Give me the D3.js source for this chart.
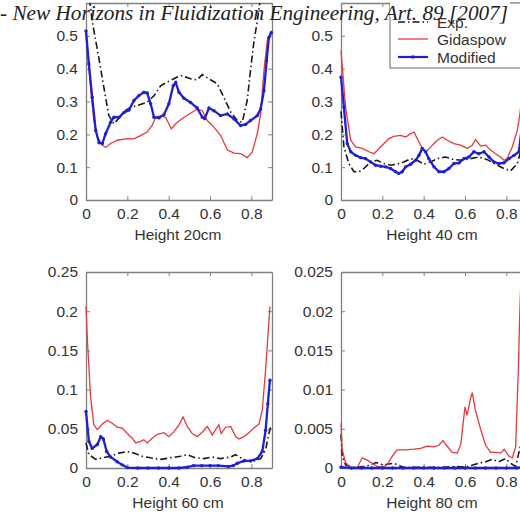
<!DOCTYPE html>
<html><head><meta charset="utf-8">
<script src="https://cdn.jsdelivr.net/npm/d3@7"></script>
<style>body{margin:0;background:#fff}svg{display:block}</style>
</head><body>
<svg id="c" width="520" height="513"></svg>
<script>
// ---------- data ----------
const titleText = "- New Horizons in Fluidization Engineering, Art. 89 [2007]";
const seriesNames = ["Exp.", "Gidaspow", "Modified"];
const xTicks = [0, 0.2, 0.4, 0.6, 0.8];
const xLabels = ["Height 20cm", "Height 40 cm", "Height 60 cm", "Height 80 cm"];
const yTicksTop = [0, 0.1, 0.2, 0.3, 0.4, 0.5];
const yTicks60 = [0, 0.05, 0.1, 0.15, 0.2, 0.25];
const yTicks80 = [0, 0.005, 0.01, 0.015, 0.02, 0.025];

// Height 20 cm
const h20_exp = [[0,0.7],[0.015,0.62],[0.03,0.545],[0.06,0.44],[0.09,0.33],[0.11,0.258],[0.135,0.232],[0.16,0.25],[0.184,0.27],[0.21,0.28],[0.248,0.288],[0.296,0.298],[0.33,0.318],[0.361,0.348],[0.41,0.365],[0.458,0.379],[0.48,0.375],[0.506,0.369],[0.538,0.366],[0.563,0.382],[0.595,0.369],[0.635,0.354],[0.667,0.313],[0.7,0.268],[0.732,0.242],[0.756,0.237],[0.78,0.303],[0.796,0.394],[0.813,0.485],[0.829,0.545],[0.845,0.62],[0.9,0.75]];
const h20_gid = [[0,0.505],[0.022,0.343],[0.038,0.242],[0.055,0.192],[0.079,0.167],[0.095,0.16],[0.119,0.172],[0.151,0.182],[0.2,0.187],[0.232,0.186],[0.256,0.194],[0.296,0.207],[0.32,0.227],[0.337,0.252],[0.361,0.257],[0.385,0.252],[0.413,0.217],[0.442,0.237],[0.474,0.252],[0.506,0.264],[0.538,0.277],[0.563,0.272],[0.587,0.242],[0.619,0.222],[0.651,0.197],[0.684,0.152],[0.716,0.143],[0.748,0.141],[0.78,0.129],[0.804,0.146],[0.829,0.202],[0.845,0.263],[0.861,0.394],[0.877,0.485],[0.893,0.51]];
const h20_mod = [[0,0.515],[0.014,0.414],[0.03,0.313],[0.047,0.212],[0.063,0.174],[0.079,0.172],[0.095,0.202],[0.119,0.237],[0.135,0.252],[0.16,0.252],[0.184,0.267],[0.208,0.274],[0.232,0.303],[0.256,0.318],[0.28,0.328],[0.296,0.326],[0.313,0.293],[0.329,0.252],[0.353,0.25],[0.377,0.26],[0.401,0.293],[0.422,0.348],[0.434,0.358],[0.45,0.328],[0.474,0.31],[0.506,0.297],[0.538,0.28],[0.563,0.252],[0.574,0.248],[0.595,0.28],[0.619,0.272],[0.651,0.257],[0.684,0.262],[0.716,0.247],[0.748,0.227],[0.772,0.23],[0.796,0.242],[0.829,0.257],[0.845,0.277],[0.861,0.333],[0.874,0.424],[0.885,0.495],[0.897,0.51]];

// Height 40 cm
const h40_exp = [[0,0.27],[0.014,0.162],[0.038,0.111],[0.063,0.086],[0.087,0.086],[0.111,0.096],[0.143,0.116],[0.175,0.121],[0.208,0.111],[0.24,0.106],[0.272,0.109],[0.304,0.116],[0.337,0.126],[0.369,0.121],[0.401,0.109],[0.434,0.116],[0.466,0.126],[0.506,0.131],[0.546,0.123],[0.587,0.121],[0.627,0.126],[0.667,0.131],[0.708,0.123],[0.748,0.109],[0.788,0.096],[0.821,0.089],[0.853,0.111],[0.875,0.16],[0.9,0.27]];
const h40_gid = [[0,0.455],[0.022,0.283],[0.047,0.182],[0.071,0.162],[0.103,0.157],[0.135,0.147],[0.16,0.141],[0.184,0.157],[0.208,0.172],[0.232,0.187],[0.256,0.194],[0.288,0.197],[0.313,0.192],[0.337,0.202],[0.353,0.207],[0.369,0.187],[0.393,0.157],[0.413,0.147],[0.442,0.167],[0.466,0.182],[0.49,0.192],[0.514,0.182],[0.546,0.172],[0.579,0.167],[0.611,0.157],[0.635,0.167],[0.651,0.184],[0.676,0.164],[0.7,0.167],[0.724,0.152],[0.748,0.141],[0.772,0.131],[0.788,0.121],[0.804,0.126],[0.829,0.162],[0.853,0.212],[0.866,0.263],[0.88,0.35],[0.9,0.45]];
const h40_mod = [[0,0.374],[0.014,0.283],[0.03,0.172],[0.047,0.147],[0.071,0.136],[0.095,0.129],[0.119,0.126],[0.143,0.116],[0.167,0.106],[0.192,0.103],[0.216,0.101],[0.24,0.096],[0.264,0.086],[0.28,0.081],[0.296,0.086],[0.313,0.101],[0.337,0.109],[0.361,0.121],[0.377,0.136],[0.393,0.157],[0.409,0.147],[0.425,0.126],[0.45,0.101],[0.474,0.086],[0.498,0.086],[0.522,0.096],[0.546,0.111],[0.571,0.113],[0.595,0.126],[0.619,0.131],[0.643,0.147],[0.667,0.141],[0.692,0.147],[0.716,0.131],[0.74,0.116],[0.764,0.111],[0.788,0.113],[0.813,0.126],[0.837,0.136],[0.861,0.147],[0.88,0.25],[0.9,0.37]];

// Height 60 cm
const h60_exp = [[0,0.032],[0.014,0.017],[0.047,0.011],[0.079,0.013],[0.119,0.015],[0.16,0.019],[0.2,0.021],[0.232,0.019],[0.272,0.015],[0.313,0.013],[0.361,0.011],[0.409,0.013],[0.458,0.015],[0.49,0.017],[0.53,0.013],[0.571,0.012],[0.611,0.014],[0.651,0.012],[0.7,0.014],[0.724,0.017],[0.748,0.013],[0.78,0.009],[0.813,0.009],[0.845,0.012],[0.869,0.023],[0.885,0.044],[0.893,0.052]];
const h60_gid = [[0,0.206],[0.006,0.167],[0.022,0.091],[0.038,0.055],[0.055,0.049],[0.079,0.056],[0.103,0.061],[0.127,0.057],[0.151,0.052],[0.175,0.051],[0.2,0.044],[0.224,0.038],[0.24,0.032],[0.264,0.034],[0.28,0.036],[0.296,0.032],[0.32,0.038],[0.345,0.043],[0.377,0.045],[0.401,0.04],[0.425,0.046],[0.45,0.055],[0.47,0.065],[0.49,0.053],[0.514,0.044],[0.538,0.04],[0.563,0.046],[0.587,0.053],[0.611,0.042],[0.627,0.049],[0.643,0.055],[0.654,0.044],[0.676,0.052],[0.7,0.053],[0.724,0.04],[0.74,0.037],[0.764,0.04],[0.788,0.045],[0.813,0.051],[0.837,0.056],[0.853,0.074],[0.869,0.125],[0.88,0.168],[0.89,0.206]];
const h60_mod = [[0,0.072],[0.014,0.034],[0.03,0.025],[0.055,0.03],[0.071,0.04],[0.084,0.037],[0.1,0.021],[0.119,0.014],[0.151,0.008],[0.175,0.004],[0.2,0.0005],[0.25,0],[0.3,0],[0.35,0],[0.4,0],[0.45,0],[0.49,0.001],[0.52,0.003],[0.56,0.003],[0.6,0.003],[0.64,0.003],[0.69,0.002],[0.712,0.003],[0.732,0.006],[0.764,0.009],[0.796,0.009],[0.829,0.012],[0.853,0.021],[0.869,0.048],[0.88,0.082],[0.89,0.112]];

// Height 80 cm
const h80_exp = [[0,0.0043],[0.006,0.0015],[0.022,0.0004],[0.06,0.0001],[0.12,0.0002],[0.17,0.0007],[0.2,0.0004],[0.256,0.0006],[0.3,0.0001],[0.4,0.0001],[0.5,0.0001],[0.55,0.0002],[0.6,0.0001],[0.667,0.0006],[0.7,0.0008],[0.732,0.0011],[0.764,0.0008],[0.796,0.0012],[0.821,0.0006],[0.845,0.0002],[0.87,0.003],[0.9,0.008]];
const h80_gid = [[0,0.0057],[0.006,0.0023],[0.022,0.0007],[0.047,0],[0.079,0.0001],[0.103,0.0013],[0.127,0.001],[0.151,0.0006],[0.175,0.0002],[0.2,0.0001],[0.224,0.0004],[0.248,0.0015],[0.272,0.0023],[0.313,0.0023],[0.353,0.0024],[0.385,0.0025],[0.417,0.0028],[0.45,0.0027],[0.474,0.0029],[0.494,0.0035],[0.51,0.0029],[0.538,0.002],[0.563,0.0019],[0.58,0.0031],[0.6,0.0078],[0.61,0.0067],[0.627,0.0089],[0.635,0.0096],[0.65,0.0074],[0.676,0.0049],[0.7,0.0029],[0.724,0.002],[0.748,0.002],[0.772,0.0019],[0.79,0.0024],[0.813,0.0015],[0.829,0.0013],[0.845,0.0027],[0.858,0.0125],[0.866,0.0206],[0.875,0.027],[0.9,0.03]];
const h80_mod = [[0,0.0001],[0.05,0],[0.1,0],[0.15,0],[0.2,0],[0.25,0],[0.3,0],[0.35,0],[0.4,0],[0.45,0],[0.5,0],[0.55,0],[0.6,0],[0.65,0],[0.7,0],[0.75,0],[0.8,0],[0.85,0],[0.9,0.0002]];

// ---------- drawing ----------
const svg = d3.select("#c");
svg.append("rect").attr("width",520).attr("height",513).attr("fill","#fff");

const AX = "#808080", TXT = "#333";
const COL = {exp:"#1a1a1a", gid:"#e8383d", mod:"#1f1fd6"};

const panels = [
  {x0:86, y0:3, w:186, h:197, ymax:0.6, yt:yTicksTop, lab:xLabels[0], exp:h20_exp, gid:h20_gid, mod:h20_mod},
  {x0:341, y0:3, w:186, h:197, ymax:0.6, yt:yTicksTop, lab:xLabels[1], exp:h40_exp, gid:h40_gid, mod:h40_mod},
  {x0:86, y0:272, w:186, h:196, ymax:0.25, yt:yTicks60, lab:xLabels[2], exp:h60_exp, gid:h60_gid, mod:h60_mod},
  {x0:341, y0:272, w:186, h:196, ymax:0.025, yt:yTicks80, lab:xLabels[3], exp:h80_exp, gid:h80_gid, mod:h80_mod}
];

panels.forEach((p,i)=>{
  const x = d3.scaleLinear().domain([0,0.9]).range([p.x0, p.x0+p.w]);
  const y = d3.scaleLinear().domain([0,p.ymax]).range([p.y0+p.h, p.y0]);
  const g = svg.append("g");
  const cid = "clip"+i;
  svg.append("clipPath").attr("id",cid).append("rect")
    .attr("x",p.x0-3).attr("y",p.y0).attr("width",p.w+6).attr("height",p.h+3);

  const tl = 4;
  const fmt = d=>d3.format("")(d);
  const bottom = d3.axisBottom(x).tickValues(xTicks).tickSizeInner(-tl).tickSizeOuter(0).tickPadding(8).tickFormat(fmt);
  const top = d3.axisTop(x).tickValues(xTicks).tickSizeInner(-tl).tickSizeOuter(0).tickFormat("");
  const left = d3.axisLeft(y).tickValues(p.yt).tickSizeInner(-tl).tickSizeOuter(0).tickPadding(8).tickFormat(fmt);
  const right = d3.axisRight(y).tickValues(p.yt).tickSizeInner(-tl).tickSizeOuter(0).tickFormat("");

  const gb = g.append("g").attr("transform",`translate(0,${p.y0+p.h})`).call(bottom);
  const gt = g.append("g").attr("transform",`translate(0,${p.y0})`).call(top);
  const gl = g.append("g").attr("transform",`translate(${p.x0},0)`).call(left);
  const gr = g.append("g").attr("transform",`translate(${p.x0+p.w},0)`).call(right);
  [gb,gt,gl,gr].forEach(a=>{
    a.selectAll("path.domain").attr("stroke",AX).attr("stroke-width",1.3);
    a.selectAll(".tick line").attr("stroke",AX);
    a.selectAll("text").attr("fill",TXT).attr("font-family","Liberation Sans, Arial, sans-serif").attr("font-size",15.5);
  });

  g.append("text").attr("x",p.x0+p.w/2 - (i%2?2:1)).attr("y",p.y0+p.h+40)
    .attr("text-anchor","middle").attr("fill",TXT)
    .attr("font-family","Liberation Sans, Arial, sans-serif").attr("font-size",15.5).text(p.lab);

  const line = d3.line().x(d=>x(d[0])).y(d=>y(d[1]));
  const pg = g.append("g").attr("clip-path",`url(#${cid})`);
  pg.append("path").datum(p.exp).attr("d",line).attr("fill","none")
    .attr("stroke",COL.exp).attr("stroke-width",1.6).attr("stroke-dasharray","7,3,1.5,3");
  pg.append("path").datum(p.gid).attr("d",line).attr("fill","none")
    .attr("stroke",COL.gid).attr("stroke-width",1.3);
  pg.append("path").datum(p.mod).attr("d",line).attr("fill","none")
    .attr("stroke",COL.mod).attr("stroke-width",2.3);
  pg.selectAll("circle").data(p.mod).join("circle")
    .attr("cx",d=>x(d[0])).attr("cy",d=>y(d[1])).attr("r",1.7).attr("fill",COL.mod);
});

// legend in the 40 cm panel
const lg = svg.append("g");
lg.append("rect").attr("x",390).attr("y",3).attr("width",150).attr("height",65)
  .attr("fill","#fff").attr("stroke",AX).attr("stroke-width",1.2);
const legY = [22, 39, 57];
const legCol = [COL.exp, COL.gid, COL.mod];
seriesNames.forEach((n,i)=>{
  const l = lg.append("line").attr("x1",398).attr("x2",428).attr("y1",legY[i]).attr("y2",legY[i])
    .attr("stroke",legCol[i]).attr("stroke-width",i===2?2.2:(i===0?1.6:1.3));
  if(i===0) l.attr("stroke-dasharray","7,3,1.5,3");
  if(i===2) lg.append("circle").attr("cx",413).attr("cy",legY[i]).attr("r",1.8).attr("fill",COL.mod);
  lg.append("text").attr("x",437).attr("y",legY[i]+5.5).attr("fill",TXT)
    .attr("font-family","Liberation Sans, Arial, sans-serif").attr("font-size",15.5).text(n);
});

// header text overlay
svg.append("rect").attr("x",390).attr("y",0).attr("width",120).attr("height",17).attr("fill","#fff");
svg.append("text").attr("x",0).attr("y",20)
  .attr("font-family","Liberation Serif, serif").attr("font-style","italic").attr("font-size",20)
  .attr("fill","#222").attr("textLength",508).attr("lengthAdjust","spacingAndGlyphs").text(titleText);
</script>
</body></html>
